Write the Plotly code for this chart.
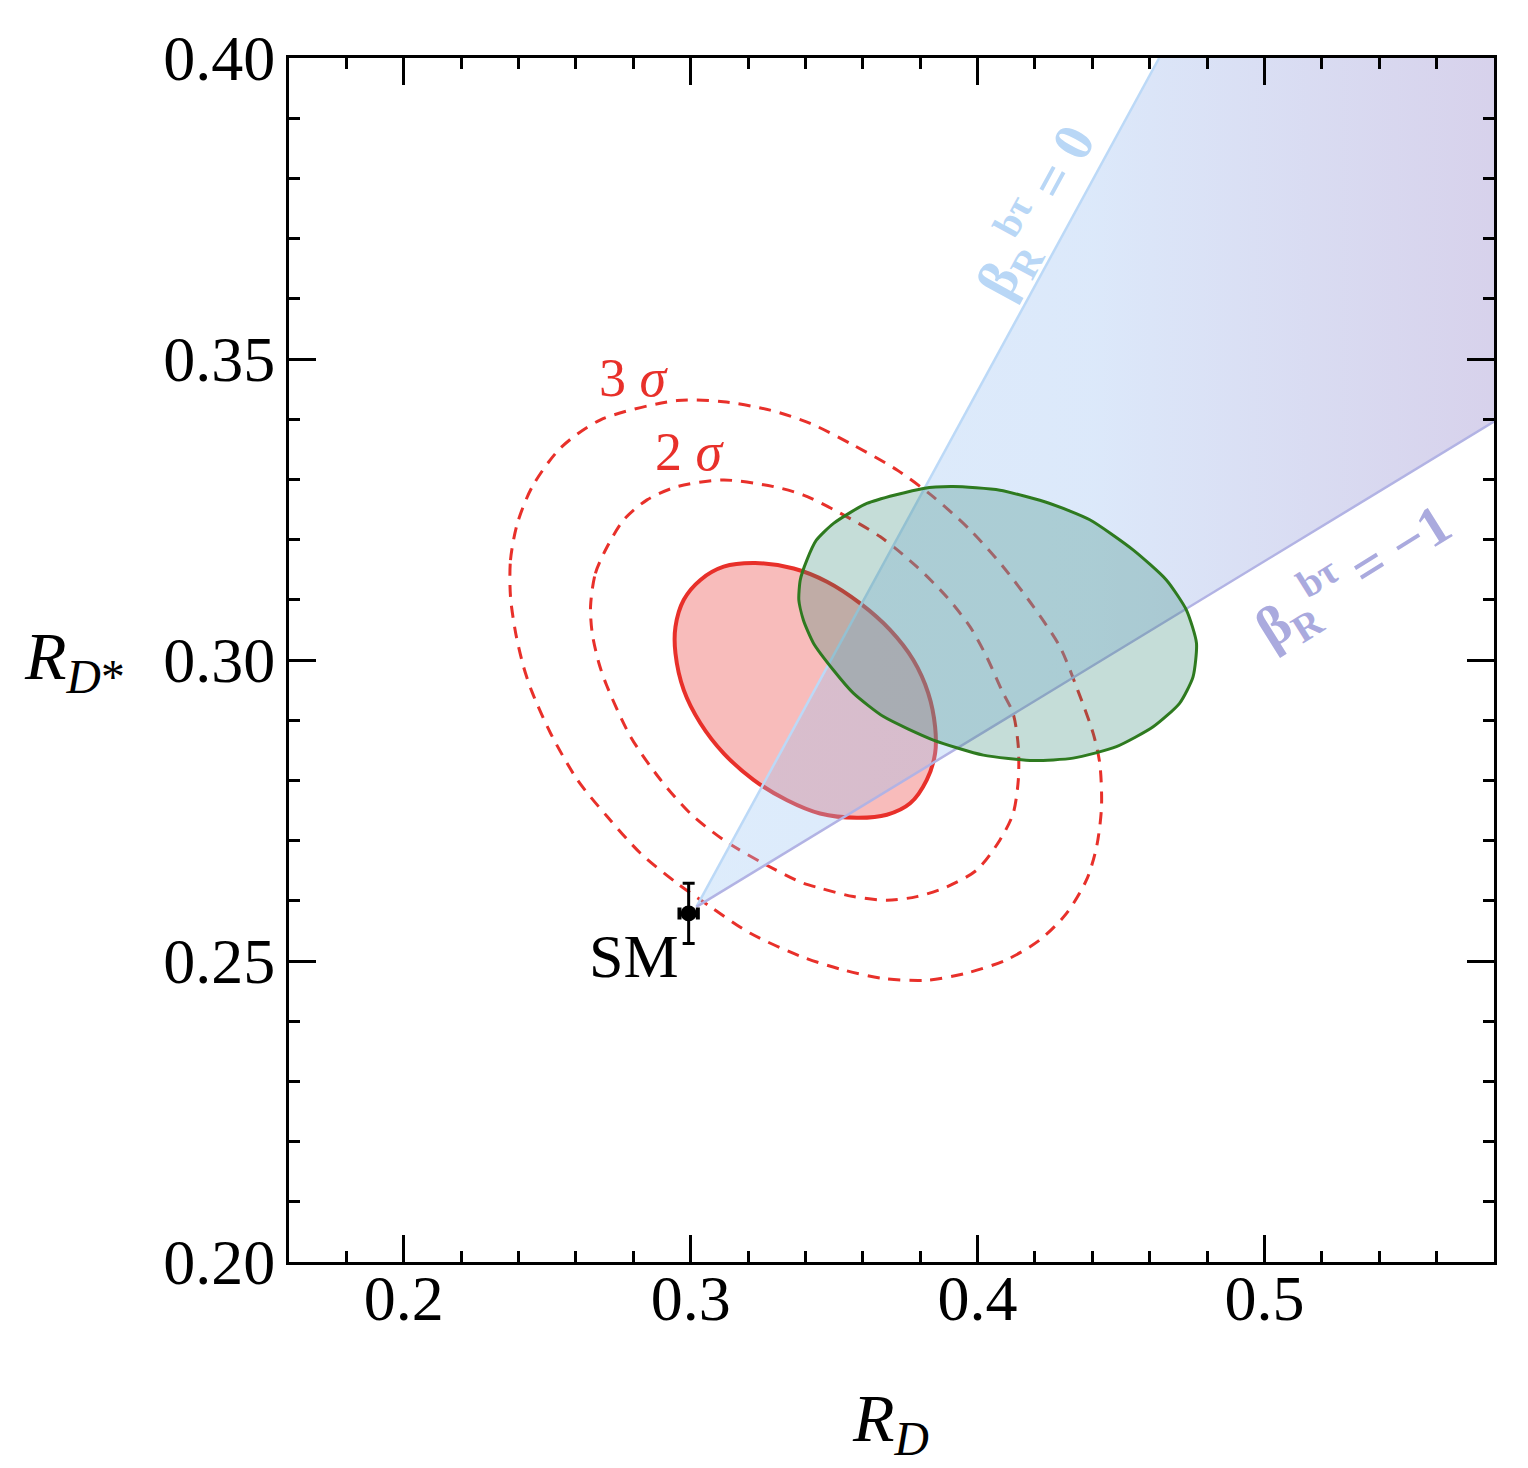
import plotly.graph_objects as go

# contours (R_D, R_D*)
fit_x = [0.3225, 0.3359, 0.3475, 0.3591, 0.3695, 0.3776, 0.3828, 0.3852, 0.3852, 0.3823, 0.3765,
         0.3684, 0.3579, 0.3451, 0.3336, 0.3219, 0.3115, 0.3034, 0.2976, 0.2947, 0.2947, 0.2976,
         0.3034, 0.3115, 0.3225]
fit_y = [0.3161, 0.3152, 0.3130, 0.3094, 0.3050, 0.3000, 0.2945, 0.2889, 0.2845, 0.2801, 0.2762,
         0.2743, 0.2738, 0.2745, 0.2767, 0.2801, 0.2845, 0.2895, 0.2950, 0.3011, 0.3055, 0.3100,
         0.3133, 0.3155, 0.3161]

exp_x = [0.3428, 0.3393, 0.3377, 0.3382, 0.3405, 0.3438, 0.3498, 0.3614, 0.3811, 0.3915, 0.4078,
         0.4252, 0.4391, 0.4542, 0.4658, 0.4728, 0.4763, 0.4751, 0.4704, 0.4612, 0.4484, 0.4333,
         0.4194, 0.4020, 0.3846, 0.3672, 0.3567, 0.3498, 0.3428]
exp_y = [0.3028, 0.3066, 0.3100, 0.3133, 0.3166, 0.3199, 0.3227, 0.3260, 0.3285, 0.3288, 0.3282,
         0.3260, 0.3233, 0.3183, 0.3133, 0.3083, 0.3028, 0.2972, 0.2928, 0.2889, 0.2856, 0.2837,
         0.2833, 0.2842, 0.2867, 0.2906, 0.2945, 0.2983, 0.3028]

sig2_x = [0.2651, 0.2668, 0.2709, 0.2767, 0.2848, 0.2953, 0.3115, 0.3289, 0.3393, 0.3521, 0.3660,
          0.3788, 0.3892, 0.3974, 0.4032, 0.4084, 0.4124, 0.4142, 0.4142, 0.4124, 0.4078, 0.3997,
          0.3892, 0.3788, 0.3684, 0.3567, 0.3451, 0.3388, 0.3254, 0.3115, 0.2999, 0.2895, 0.2790,
          0.2707, 0.2680, 0.2657, 0.2651]
sig2_y = [0.3089, 0.3144, 0.3188, 0.3233, 0.3266, 0.3288, 0.3299, 0.3288, 0.3274, 0.3244, 0.3205,
          0.3155, 0.3105, 0.3055, 0.3005, 0.2950, 0.2911, 0.2856, 0.2801, 0.2745, 0.2701, 0.2651,
          0.2623, 0.2607, 0.2601, 0.2607, 0.2621, 0.2630, 0.2662, 0.2701, 0.2745, 0.2801, 0.2873,
          0.2958, 0.2995, 0.3044, 0.3089]

sig3_x = [0.2372, 0.2372, 0.2396, 0.2448, 0.2546, 0.2686, 0.2953, 0.3114, 0.3277, 0.3417, 0.3567,
          0.3718, 0.3846, 0.3974, 0.4089, 0.4194, 0.4287, 0.4349, 0.4403, 0.4426, 0.4432, 0.4415,
          0.4380, 0.4310, 0.4217, 0.4101, 0.3962, 0.3823, 0.3672, 0.3533, 0.3388, 0.3208, 0.3069,
          0.2953, 0.2825, 0.2709, 0.2605, 0.2512, 0.2447, 0.2418, 0.2390, 0.2372]
sig3_y = [0.3105, 0.3166, 0.3227, 0.3288, 0.3352, 0.3399, 0.3431, 0.3429, 0.3415, 0.3393, 0.3357,
          0.3316, 0.3271, 0.3216, 0.3155, 0.3089, 0.3022, 0.2950, 0.2878, 0.2828, 0.2756, 0.2690,
          0.2635, 0.2579, 0.2535, 0.2502, 0.2480, 0.2468, 0.2471, 0.2485, 0.2507, 0.2546, 0.2590,
          0.2629, 0.2679, 0.2740, 0.2801, 0.2878, 0.2947, 0.2988, 0.3045, 0.3105]

# wedge: apex, beta=0 end (top edge), corner, beta=-1 end (right edge)
wedge_x = [0.3020, 0.4633, 0.58, 0.58, 0.3020]
wedge_y = [0.2590, 0.40, 0.40, 0.3396, 0.2590]

sm_x, sm_y = 0.2993, 0.2579
sm_ex, sm_ey = 0.0032, 0.005

RED = "#e8302a"
FONT = "Liberation Serif"

fig = go.Figure()

fig.add_trace(go.Scatter(x=fit_x, y=fit_y, mode="lines", fill="toself",
                         fillcolor="rgba(232,40,35,0.31)",
                         line=dict(color=RED, width=4, shape="spline", smoothing=1)))
for xs, ys in [(sig2_x, sig2_y), (sig3_x, sig3_y)]:
    fig.add_trace(go.Scatter(x=xs, y=ys, mode="lines",
                             line=dict(color=RED, width=3, dash="12px,9px",
                                       shape="spline", smoothing=0.8)))

fig.add_trace(go.Scatter(
    x=wedge_x, y=wedge_y, mode="lines", fill="toself", line=dict(width=0),
    fillgradient=dict(type="horizontal", start=0.30, stop=0.58,
                      colorscale=[[0, "rgba(150,196,244,0.32)"],
                                  [0.5, "rgba(145,185,240,0.32)"],
                                  [1, "rgba(122,104,190,0.30)"]])))
fig.add_trace(go.Scatter(x=wedge_x[:2], y=wedge_y[:2], mode="lines",
                         line=dict(color="#bcd9f7", width=2.5)))
fig.add_trace(go.Scatter(x=[wedge_x[0], wedge_x[3]], y=[wedge_y[0], wedge_y[3]], mode="lines",
                         line=dict(color="#b2b3e4", width=2.5)))

fig.add_trace(go.Scatter(x=exp_x, y=exp_y, mode="lines", fill="toself",
                         fillcolor="rgba(40,130,110,0.27)",
                         line=dict(color="#2e7a1f", width=3, shape="spline", smoothing=0.6)))

fig.add_trace(go.Scatter(
    x=[sm_x], y=[sm_y], mode="markers", marker=dict(color="black", size=16),
    error_x=dict(type="constant", value=sm_ex, color="black", thickness=4, width=6),
    error_y=dict(type="constant", value=sm_ey, color="black", thickness=3, width=6)))

labels = [
    dict(x=0.2801, y=0.3468, text="3<i> σ</i>", font=dict(size=54, color=RED, family=FONT)),
    dict(x=0.2999, y=0.3346, text="2<i> σ</i>", font=dict(size=54, color=RED, family=FONT)),
    dict(x=0.2801, y=0.2508, text="SM", font=dict(size=62, color="black", family=FONT)),
    dict(x=0.4200, y=0.3746, text="<b>β<sub>R</sub><sup>bτ</sup> = 0</b>", textangle=-61.4,
         font=dict(size=56, color="#b9d7f6", family=FONT)),
    dict(x=0.5310, y=0.3141, text="<b>β<sub>R</sub><sup>bτ</sup> = −1</b>", textangle=-32,
         font=dict(size=56, color="#aaaade", family=FONT)),
]
for a in labels:
    fig.add_annotation(xref="x", yref="y", showarrow=False, xanchor="center",
                       yanchor="middle", **a)

fig.add_annotation(xref="paper", yref="paper", x=0.4988, y=-0.1329, showarrow=False,
                   xanchor="center", yanchor="middle",
                   text="<i>R</i><sub><i>D</i></sub>", font=dict(size=68, family=FONT, color="black"))
fig.add_annotation(xref="paper", yref="paper", x=-0.1776, y=0.5, showarrow=False,
                   xanchor="center", yanchor="middle",
                   text="<i>R</i><sub><i>D</i>*</sub>", font=dict(size=68, family=FONT, color="black"))

axis = dict(showgrid=False, zeroline=False, showline=True, linecolor="black", linewidth=3,
            mirror="allticks", ticks="inside", ticklen=27, tickwidth=2.5, tickcolor="black",
            tickfont=dict(size=64, family=FONT, color="black"))
fig.update_xaxes(range=[0.16, 0.58], tick0=0, dtick=0.1, tickformat=".1f",
                 ticklabelstandoff=-22,
                 minor=dict(dtick=0.02, ticks="inside", ticklen=11, tickwidth=2.5,
                            tickcolor="black"), **axis)
fig.update_yaxes(range=[0.20, 0.40], tick0=0, dtick=0.05, tickformat=".2f",
                 ticklabelstandoff=-2,
                 minor=dict(dtick=0.01, ticks="inside", ticklen=11, tickwidth=2.5,
                            tickcolor="black"), **axis)

# page has an 8px body margin, so the figure is shrunk by that amount
fig.update_layout(width=1520, height=1460, showlegend=False,
                  margin=dict(l=281, r=34, t=50, b=206),
                  plot_bgcolor="white", paper_bgcolor="white")

fig.write_html("out.html")
